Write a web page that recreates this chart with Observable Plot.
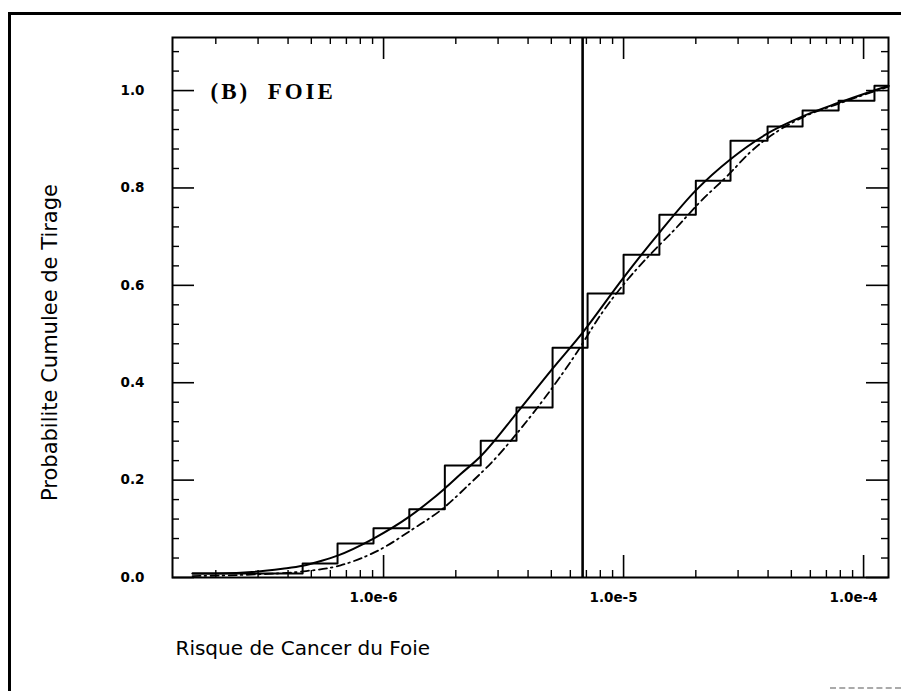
<!DOCTYPE html>
<html>
<head>
<meta charset="utf-8">
<script src="https://cdn.jsdelivr.net/npm/d3@7"></script>
<script src="https://cdn.jsdelivr.net/npm/@observablehq/plot@0.6"></script>
<style>
  html, body { margin: 0; padding: 0; background: #fff; }
  #wrap { position: relative; width: 901px; height: 691px; overflow: hidden; background: #fff; }
  #chart { position: absolute; left: 0; top: 0; }
  #border { position: absolute; left: 8px; top: 12px; width: 1000px; height: 1000px;
            border-left: 3px solid #000; border-top: 3px solid #000; box-sizing: border-box; }
  #scan { position: absolute; left: 830px; top: 687px; width: 71px; height: 0; border-top: 2px dashed #aaa; }
</style>
</head>
<body>
<div id="wrap"><div id="chart"></div><div id="border"></div><div id="scan"></div></div>
<script>
// ---- data ----
const panelTitle = "(B)\u00a0\u00a0FOIE";
const yTitle = "Probabilite Cumulee de Tirage";
const xTitle = "Risque de Cancer du Foie";

// empirical (step) distribution: bin edges and cumulative level after each edge
const stepX = [1.6e-7, 4.6e-7, 6.43e-7, 9.08e-7, 1.28e-6, 1.80e-6, 2.54e-6, 3.58e-6, 5.06e-6,
               7.08e-6, 1.0e-5, 1.41e-5, 2.0e-5, 2.79e-5, 3.98e-5, 5.57e-5, 7.87e-5, 1.11e-4, 1.27e-4];
const stepY = [0.008, 0.029, 0.070, 0.101, 0.140, 0.230, 0.281, 0.349, 0.472,
               0.583, 0.663, 0.745, 0.815, 0.897, 0.926, 0.959, 0.979, 1.010, 1.010];

// fitted curve (solid)
const solidX = [1.60e-7, 2.54e-7, 3.79e-7, 4.60e-7, 5.57e-7, 6.43e-7, 9.08e-7, 1.28e-6, 1.54e-6,
                1.80e-6, 2.09e-6, 2.54e-6, 3.58e-6, 5.06e-6, 6.75e-6, 1.0e-5, 1.43e-5, 2.0e-5,
                2.79e-5, 3.98e-5, 5.57e-5, 7.87e-5, 1.27e-4];
const solidY = [0.008, 0.010, 0.018, 0.024, 0.035, 0.045, 0.080, 0.125, 0.155,
                0.183, 0.212, 0.249, 0.337, 0.429, 0.503, 0.616, 0.712, 0.795,
                0.859, 0.912, 0.947, 0.975, 1.010];

// second curve (dash-dot)
const dashX = [1.60e-7, 2.79e-7, 4.51e-7, 6.62e-7, 9.72e-7, 1.33e-6, 1.75e-6, 2.26e-6, 2.93e-6,
               3.65e-6, 4.60e-6, 6.19e-6, 8.25e-6, 1.04e-5, 1.30e-5, 1.65e-5, 2.09e-5, 2.71e-5,
               3.38e-5, 4.43e-5, 5.57e-5, 7.87e-5, 1.27e-4];
const dashY = [0.003, 0.006, 0.012, 0.025, 0.058, 0.100, 0.140, 0.190, 0.245,
               0.300, 0.363, 0.452, 0.548, 0.612, 0.665, 0.717, 0.772, 0.825,
               0.874, 0.918, 0.945, 0.973, 1.008];

const vlineX = [6.75e-6];

const xMajor = [1e-6, 1e-5, 1e-4];
const xMinor = [2e-7, 3e-7, 4e-7, 5e-7, 6e-7, 7e-7, 8e-7, 9e-7,
                2e-6, 3e-6, 4e-6, 5e-6, 6e-6, 7e-6, 8e-6, 9e-6,
                2e-5, 3e-5, 4e-5, 5e-5, 6e-5, 7e-5, 8e-5, 9e-5];
const yMajor = [0, 0.2, 0.4, 0.6, 0.8, 1.0];
const yMinor = [0.04, 0.08, 0.12, 0.16, 0.24, 0.28, 0.32, 0.36, 0.44, 0.48, 0.52, 0.56,
                0.64, 0.68, 0.72, 0.76, 0.84, 0.88, 0.92, 0.96, 1.04, 1.08];

// ---- build ----
const step = stepX.map((x, i) => ({x, y: stepY[i]}));
const solid = solidX.map((x, i) => ({x, y: solidY[i]}));
const dash = dashX.map((x, i) => ({x, y: dashY[i]}));

const W = 901, H = 691, mL = 172, mR = 13, mT = 37, mB = 114;
const fw = W - mL - mR, fh = H - mT - mB;
const majLen = 22, minLen = 7;

const chart = Plot.plot({
  width: W, height: H,
  marginLeft: mL, marginRight: mR, marginTop: mT, marginBottom: mB,
  style: {background: "transparent", color: "#000"},
  x: {type: "log", domain: [1.32e-7, 1.27e-4]},
  y: {domain: [0, 1.109]},
  marks: [
    // ticks (inward, on all four sides)
    Plot.tickY(yMajor, {y: d => d, insetRight: fw - majLen, stroke: "#000", strokeWidth: 1.6}),
    Plot.tickY(yMinor, {y: d => d, insetRight: fw - minLen, stroke: "#000", strokeWidth: 1.4}),
    Plot.tickY(yMajor, {y: d => d, insetLeft: fw - majLen, stroke: "#000", strokeWidth: 1.6}),
    Plot.tickY(yMinor, {y: d => d, insetLeft: fw - minLen, stroke: "#000", strokeWidth: 1.4}),
    Plot.tickX(xMajor, {x: d => d, insetTop: fh - majLen, stroke: "#000", strokeWidth: 1.6}),
    Plot.tickX(xMinor, {x: d => d, insetTop: fh - minLen, stroke: "#000", strokeWidth: 1.4}),
    Plot.tickX(xMajor, {x: d => d, insetBottom: fh - majLen, stroke: "#000", strokeWidth: 1.6}),
    Plot.tickX(xMinor, {x: d => d, insetBottom: fh - minLen, stroke: "#000", strokeWidth: 1.4}),
    Plot.axisY({ticks: yMajor, tickSize: 0, tickPadding: 28, tickFormat: d3.format(".1f"),
                fontSize: 13.5, fontWeight: "bold", fontFamily: "DejaVu Sans", label: null}),
    Plot.axisX({ticks: xMajor, tickSize: 0, tickPadding: 15, tickFormat: d3.format(".1e"),
                dx: -10, fontSize: 13.5, fontWeight: "bold", fontFamily: "DejaVu Sans", label: null}),
    // data
    Plot.ruleX(vlineX, {x: d => d, stroke: "#000", strokeWidth: 2.6}),
    Plot.line(dash, {x: "x", y: "y", curve: "monotone-x", stroke: "#000", strokeWidth: 1.8,
                     strokeDasharray: "8,4,1.6,4.5"}),
    Plot.line(step, {x: "x", y: "y", curve: "step-after", stroke: "#000", strokeWidth: 2}),
    Plot.line(solid, {x: "x", y: "y", curve: "monotone-x", stroke: "#000", strokeWidth: 2}),
    Plot.frame({stroke: "#000", strokeWidth: 2}),
    // texts
    Plot.text([panelTitle], {text: d => d, frameAnchor: "top-left", dx: 38, dy: 54,
                             textAnchor: "start", lineAnchor: "middle",
                             fontFamily: "Liberation Serif", fontWeight: "bold", fontSize: 23}),
    Plot.text([yTitle], {text: d => d, frameAnchor: "left", dx: -122, dy: 35, rotate: -90,
                         textAnchor: "middle", lineAnchor: "middle",
                         fontFamily: "DejaVu Sans", fontSize: 21}),
    Plot.text([xTitle], {text: d => d, frameAnchor: "bottom-left", dx: 3, dy: 71,
                         textAnchor: "start", lineAnchor: "middle",
                         fontFamily: "DejaVu Sans", fontSize: 20})
  ]
});

chart.querySelectorAll("text").forEach(t => {
  if (t.textContent.includes("FOIE")) t.setAttribute("letter-spacing", "3");
});

document.getElementById("chart").appendChild(chart);
</script>
</body>
</html>
